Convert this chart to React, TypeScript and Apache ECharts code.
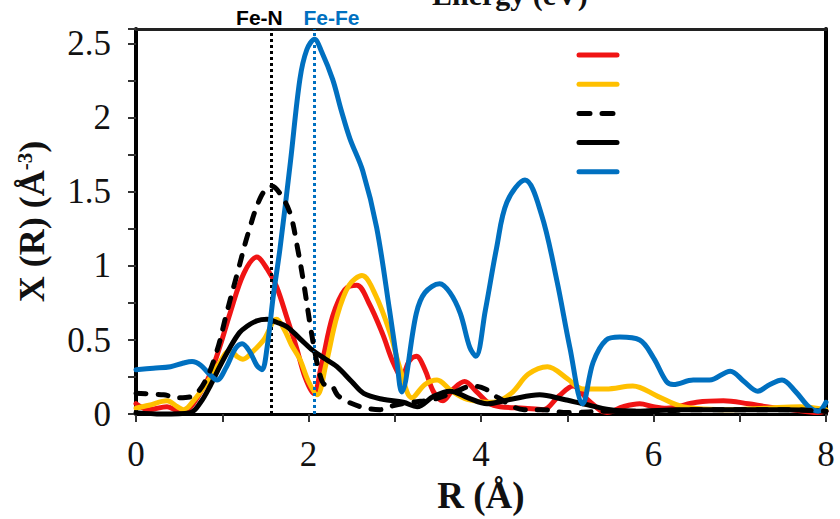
import React, { useEffect, useRef } from "react";
import * as echarts from "echarts";

// ---- data ----
const redSeries: number[][] = [
  [0, 0.07], [0.15, 0.03], [0.36, 0.05], [0.5, 0.02], [0.6, 0.03], [0.72, 0.12], [0.86, 0.27],
  [0.98, 0.47], [1.09, 0.68], [1.25, 0.95], [1.4, 1.06], [1.52, 0.98], [1.63, 0.86], [1.75, 0.65],
  [1.86, 0.45], [1.96, 0.25], [2.06, 0.14], [2.15, 0.33], [2.28, 0.66], [2.42, 0.84], [2.56, 0.87],
  [2.7, 0.75], [2.86, 0.54], [2.98, 0.35], [3.08, 0.255], [3.17, 0.36], [3.25, 0.39], [3.35, 0.3],
  [3.45, 0.15], [3.56, 0.09], [3.68, 0.17], [3.81, 0.22], [3.95, 0.15], [4.1, 0.07], [4.22, 0.05],
  [4.5, 0.04], [4.72, 0.03], [4.9, 0.12], [5.07, 0.19], [5.25, 0.09], [5.46, 0.01], [5.65, 0.05],
  [5.84, 0.07], [6.0, 0.05], [6.15, 0.04], [6.5, 0.08], [6.81, 0.09], [7.1, 0.07], [7.31, 0.05],
  [7.6, 0.03], [7.9, 0.01], [8, 0.02],
];
const yellowSeries: number[][] = [
  [0, 0.04], [0.15, 0.06], [0.36, 0.09], [0.48, 0.05], [0.55, 0.03], [0.68, 0.1], [0.82, 0.21],
  [0.95, 0.33], [1.09, 0.43], [1.17, 0.39], [1.24, 0.37], [1.35, 0.42], [1.48, 0.5], [1.63, 0.64],
  [1.72, 0.57], [1.8, 0.47], [1.9, 0.37], [2.0, 0.22], [2.1, 0.13], [2.2, 0.33], [2.33, 0.66],
  [2.47, 0.87], [2.62, 0.935], [2.78, 0.8], [2.95, 0.54], [3.06, 0.31], [3.2, 0.11], [3.35, 0.2],
  [3.49, 0.23], [3.65, 0.16], [3.84, 0.1], [4.14, 0.08], [4.35, 0.14], [4.55, 0.27], [4.77, 0.32],
  [5.0, 0.24], [5.18, 0.17], [5.45, 0.17], [5.76, 0.19], [6.05, 0.12], [6.34, 0.05], [6.9, 0.03],
  [7.3, 0.04], [7.7, 0.05], [8, 0.03],
];
const blackDashedSeries: number[][] = [
  [0, 0.14], [0.32, 0.13], [0.5, 0.11], [0.65, 0.12], [0.8, 0.22], [0.94, 0.43], [1.05, 0.68],
  [1.17, 0.94], [1.3, 1.22], [1.45, 1.47], [1.57, 1.54], [1.68, 1.48], [1.79, 1.35], [1.87, 1.13],
  [1.94, 0.9], [2.02, 0.6], [2.08, 0.4], [2.13, 0.27], [2.19, 0.2], [2.25, 0.2], [2.35, 0.12],
  [2.6, 0.05], [2.83, 0.03], [3.0, 0.06], [3.2, 0.08], [3.45, 0.1], [3.7, 0.15], [3.9, 0.19],
  [4.05, 0.17], [4.2, 0.11], [4.5, 0.03], [4.7, 0.03], [5.0, 0.01], [5.5, 0.02], [6, 0.02],
  [6.5, 0.03], [7, 0.03], [7.5, 0.03], [8, 0.02],
];
const blackSeries: number[][] = [
  [0, 0.01], [0.3, 0.0], [0.63, 0.01], [0.75, 0.08], [0.86, 0.19], [0.97, 0.32], [1.09, 0.45],
  [1.2, 0.55], [1.28, 0.59], [1.4, 0.63], [1.52, 0.64], [1.63, 0.62], [1.75, 0.59], [1.9, 0.51],
  [2.05, 0.43], [2.2, 0.37], [2.33, 0.32], [2.5, 0.22], [2.64, 0.14], [2.86, 0.1], [3.1, 0.08],
  [3.26, 0.05], [3.45, 0.12], [3.64, 0.155], [3.85, 0.11], [4.07, 0.07], [4.35, 0.1], [4.68, 0.13],
  [4.95, 0.1], [5.18, 0.07], [5.5, 0.03], [5.8, 0.02], [6.3, 0.03], [7, 0.03], [7.5, 0.03], [8, 0.02],
];
const blueSeries: number[][] = [
  [0, 0.3], [0.2, 0.31], [0.4, 0.32], [0.55, 0.345], [0.65, 0.355], [0.75, 0.33], [0.85, 0.27],
  [0.94, 0.23], [1.05, 0.32], [1.15, 0.44], [1.23, 0.475], [1.32, 0.42], [1.4, 0.33], [1.46, 0.3],
  [1.52, 0.45], [1.59, 0.79], [1.67, 1.12], [1.79, 1.7], [1.9, 2.26], [1.98, 2.46], [2.07, 2.53],
  [2.15, 2.45], [2.28, 2.26], [2.38, 2.05], [2.48, 1.86], [2.63, 1.64], [2.79, 1.26], [2.94, 0.7],
  [3.02, 0.38], [3.08, 0.15], [3.25, 0.68], [3.35, 0.82], [3.52, 0.88], [3.64, 0.82], [3.76, 0.68],
  [3.87, 0.45], [3.94, 0.39], [4.05, 0.7], [4.18, 1.12], [4.3, 1.43], [4.51, 1.58], [4.7, 1.35],
  [4.88, 0.9], [5.03, 0.45], [5.18, 0.07], [5.3, 0.35], [5.45, 0.5], [5.61, 0.52], [5.84, 0.5],
  [6.0, 0.38], [6.15, 0.22], [6.23, 0.2], [6.46, 0.23], [6.65, 0.23], [6.89, 0.29], [7.05, 0.22],
  [7.21, 0.155], [7.35, 0.2], [7.49, 0.23], [7.65, 0.15], [7.8, 0.05], [7.91, 0.02], [8.0, 0.08],
];
const markerNames = ["Fe-N", "Fe-Fe"];
const markerPositions = [1.57, 2.07];
const xTickValues = [0, 2, 4, 6, 8];
const yTickValues = [0, 0.5, 1, 1.5, 2, 2.5];

const RED = "#f01414";
const YELLOW = "#ffc000";
const BLUE = "#0070c0";
const BLACK = "#000000";

export default function App() {
  const ref = useRef<HTMLDivElement>(null);
  useEffect(() => {
    if (!ref.current) return;
    const chart = echarts.init(ref.current, undefined, { renderer: "svg" });
    const serif = '"Liberation Serif", "Times New Roman", serif';
    const near = (v: number, arr: number[]) => arr.some((t) => Math.abs(t - v) < 1e-6);
    const lineSeries = (name: string, data: number[][], color: string, type: any, z: number) => ({
      name,
      type: "line",
      data,
      smooth: 0.35,
      symbol: "none",
      clip: false,
      z,
      lineStyle: { color, width: 5, type, cap: "round", join: "round" },
    });
    const markerColors = [BLACK, BLUE];
    const markerOffsets = [[-12, 2], [17, 2]];
    const legendColors = [RED, YELLOW, BLACK, BLACK, BLUE];
    const legendDash: any[] = [null, null, [11, 12], null, null];
    const option: any = {
      animation: false,
      backgroundColor: "#ffffff",
      grid: { left: 136, right: 14, top: 29, bottom: 101, containLabel: false },
      xAxis: [
        {
          type: "value",
          min: 0,
          max: 8,
          interval: 1,
          position: "bottom",
          name: "R (Å)",
          nameLocation: "middle",
          nameGap: 59,
          nameTextStyle: { fontFamily: serif, fontSize: 37, fontWeight: "bold", color: "#111" },
          axisLine: { show: true, onZero: false, lineStyle: { color: "#000", width: 3 } },
          axisTick: { show: true, inside: false, length: 8, lineStyle: { color: "#333", width: 2 } },
          axisLabel: {
            margin: 23,
            fontFamily: serif,
            fontSize: 35,
            color: "#111",
            formatter: (v: number) => (near(v, xTickValues) ? String(v) : ""),
          },
          splitLine: { show: false },
        },
        {
          type: "value",
          min: 0,
          max: 8,
          position: "top",
          axisLine: { show: true, onZero: false, lineStyle: { color: "#222", width: 3 } },
          axisTick: { show: false },
          axisLabel: { show: false },
          splitLine: { show: false },
        },
      ],
      yAxis: [
        {
          type: "value",
          min: 0,
          max: 2.6,
          interval: 0.25,
          name: "X (R) (Å{sup|-3})",
          nameLocation: "middle",
          nameGap: 86,
          nameTextStyle: {
            fontFamily: serif,
            fontSize: 36,
            fontWeight: "bold",
            color: "#111",
            rich: {
              sup: { fontFamily: serif, fontSize: 21, fontWeight: "bold", color: "#111", verticalAlign: "top", padding: [0, 0, 15, 0] },
            },
          },
          axisLine: { show: true, onZero: false, lineStyle: { color: "#000", width: 4 } },
          axisTick: { show: true, inside: false, length: 8, lineStyle: { color: "#333", width: 2 } },
          axisLabel: {
            margin: 25,
            fontFamily: serif,
            fontSize: 35,
            color: "#111",
            formatter: (v: number) => (near(v, yTickValues) ? String(v) : ""),
          },
          splitLine: { show: false },
        },
        {
          type: "value",
          min: 0,
          max: 2.6,
          position: "right",
          axisLine: { show: true, onZero: false, lineStyle: { color: "#000", width: 4 } },
          axisTick: { show: false },
          axisLabel: { show: false },
          splitLine: { show: false },
        },
      ],
      graphic: [
        {
          type: "text",
          left: 432,
          top: -21,
          style: { text: "Energy (eV)", font: 'bold 30px "Liberation Serif"', fill: "#111" },
        },
        ...legendColors.map((c, i) => ({
          type: "line",
          shape: { x1: 579, y1: 55 + i * 29.2, x2: 617, y2: 55 + i * 29.2 },
          style: { stroke: c, lineWidth: 5, lineCap: "round", lineDash: legendDash[i] || undefined },
        })),
      ],
      series: [
        lineSeries("s1", redSeries, RED, "solid", 2),
        lineSeries("s2", yellowSeries, YELLOW, "solid", 3),
        lineSeries("s4", blackSeries, BLACK, "solid", 4),
        lineSeries("s5", blueSeries, BLUE, "solid", 5),
        {
          ...lineSeries("s3", blackDashedSeries, BLACK, [10, 12], 6),
          markLine: {
            silent: true,
            symbol: ["none", "none"],
            data: markerNames.map((n, i) => ({
              name: n,
              xAxis: markerPositions[i],
              lineStyle: { color: markerColors[i], width: 3, type: [3, 3] },
              label: {
                show: true,
                position: "end",
                formatter: n,
                offset: markerOffsets[i],
                distance: 3,
                color: markerColors[i],
                fontFamily: '"Liberation Sans", Arial, sans-serif',
                fontWeight: "bold",
                fontSize: 21,
              },
            })),
          },
        },
      ],
    };
    chart.setOption(option);
    return () => chart.dispose();
  }, []);
  return <div ref={ref} style={{ width: 840, height: 519, position: "absolute", left: 0, top: 0 }} />;
}
